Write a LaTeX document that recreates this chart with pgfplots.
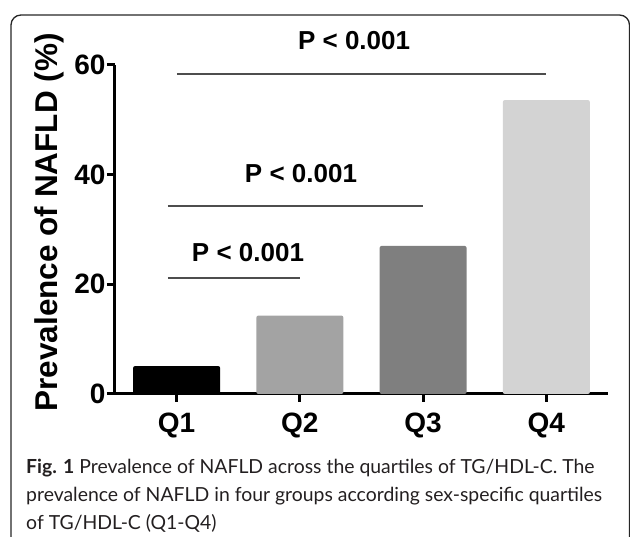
\documentclass[border=0pt]{standalone}
\usepackage{pgfplots}
\pgfplotsset{compat=1.18}
\usepackage{fontspec}
\setmainfont{Liberation Sans}
\newfontfamily\capfont{Lato}
\definecolor{qone}{HTML}{000000}
\definecolor{qtwo}{HTML}{A3A3A3}
\definecolor{qthree}{HTML}{7F7F7F}
\definecolor{qfour}{HTML}{D3D3D3}
\definecolor{sigline}{HTML}{4D4D4D}
\definecolor{captext}{HTML}{231F20}
\begin{document}
\begin{tikzpicture}
\useasboundingbox (0,0) rectangle (630pt,537pt);
\begin{scope}
\clip (0,0) rectangle (630pt,537pt);
\draw[line width=1.3pt, color=black!85, rounded corners=10pt] (11pt,-30pt) rectangle (629.5pt,522pt);
\end{scope}
\begin{axis}[
  at={(115pt,143pt)}, anchor=south west,
  scale only axis, width=493pt, height=329pt,
  xmin=0.5, xmax=4.5, ymin=0, ymax=60,
  axis lines=left,
  axis line style={-, line width=3pt, black},
  tick style={line width=3pt, black},
  major tick length=8pt, tick align=outside,
  xtick={1,2,3,4},
  xticklabels={\textbf{Q1},\textbf{Q2},\textbf{Q3},\textbf{Q4}},
  ytick={0,20,40,60},
  /pgf/number format/assume math mode=true,
  every tick label/.append style={font=\fontsize{28}{28}\selectfont\bfseries},
  xticklabel style={yshift=-7pt},
  yticklabel style={xshift=2pt},
  ylabel={Prevalence of NAFLD (\%)},
  every axis y label/.style={at={(rel axis cs:0,0.5)}, xshift=-57pt, yshift=7pt, rotate=90, anchor=base, font=\fontsize{31.5}{31.5}\selectfont\bfseries},
  clip=false,
  ybar, bar width=87pt,
]
\addplot[fill=qone, draw=none, bar shift=0pt, rounded corners=2pt] coordinates {(1,5.1)};
\addplot[fill=qtwo, draw=none, bar shift=0pt, rounded corners=2pt] coordinates {(2,14.3)};
\addplot[fill=qthree, draw=none, bar shift=0pt, rounded corners=2pt] coordinates {(3,27.0)};
\addplot[fill=qfour, draw=none, bar shift=0pt, rounded corners=2pt] coordinates {(4,53.6)};
\addplot[sharp plot, draw=sigline, line width=1.6pt, mark=none] coordinates {(0.93,21.2) (2.0,21.2)};
\addplot[sharp plot, draw=sigline, line width=1.6pt, mark=none] coordinates {(0.93,34.3) (3.0,34.3)};
\addplot[sharp plot, draw=sigline, line width=1.6pt, mark=none] coordinates {(1.003,58.4) (3.997,58.4)};
\node[anchor=base, font=\fontsize{26}{26}\selectfont\bfseries] at (axis cs:1.579,24.1) {P < 0.001};
\node[anchor=base, font=\fontsize{26}{26}\selectfont\bfseries] at (axis cs:2.009,38.5) {P < 0.001};
\node[anchor=base, font=\fontsize{26}{26}\selectfont\bfseries] at (axis cs:2.44,62.8) {P < 0.001};
\end{axis}
\begin{scope}[every node/.style={anchor=base west, inner sep=0pt, text=captext, font=\capfont\fontsize{19.4}{19.4}\selectfont}]
\node at (26pt,63pt) {\textbf{Fig. 1} Prevalence of NAFLD across the quartiles of TG/HDL-C. The};
\node at (26pt,35pt) {prevalence of NAFLD in four groups according sex-specific quartiles};
\node at (26pt,7pt) {of TG/HDL-C (Q1-Q4)};
\end{scope}
\end{tikzpicture}
\end{document}
